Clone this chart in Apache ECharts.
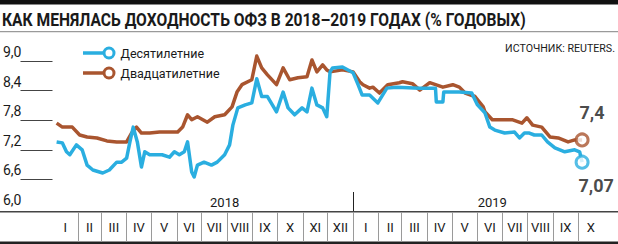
<!DOCTYPE html>
<html>
<head>
<meta charset="utf-8">
<script src="https://cdn.jsdelivr.net/npm/echarts@6/dist/echarts.min.js"></script>
<style>html,body{margin:0;padding:0;background:#fff}#c{width:618px;height:244px}</style>
</head>
<body>
<div id="c"></div>
<script>
const titleText = 'КАК МЕНЯЛАСЬ ДОХОДНОСТЬ ОФЗ В 2018–2019 ГОДАХ (% ГОДОВЫХ)';
const sourceText = 'ИСТОЧНИК: REUTERS.';
const seriesNames = ['Десятилетние', 'Двадцатилетние'];
const monthNames = ['I','II','III','IV','V','VI','VII','VIII','IX','X','XI','XII'];
const yearNames = ['2018', '2019'];
const yTicks = [6.0, 6.6, 7.2, 7.8, 8.4, 9.0];
const endLabels = ['7,07', '7,4'];

const dates10 = ['2018-01-06','2018-01-13','2018-01-18','2018-01-22','2018-01-30','2018-02-06','2018-02-12','2018-02-19','2018-03-03','2018-03-11','2018-03-20','2018-03-26','2018-04-01','2018-04-05','2018-04-09','2018-04-14','2018-04-19','2018-04-23','2018-04-29','2018-05-07','2018-05-14','2018-05-23','2018-05-29','2018-06-04','2018-06-10','2018-06-14','2018-06-19','2018-06-22','2018-06-26','2018-07-04','2018-07-13','2018-07-20','2018-07-29','2018-08-04','2018-08-08','2018-08-14','2018-08-23','2018-08-31','2018-09-06','2018-09-12','2018-09-19','2018-09-30','2018-10-08','2018-10-14','2018-10-22','2018-10-31','2018-11-06','2018-11-12','2018-11-18','2018-11-25','2018-11-30','2018-12-04','2018-12-07','2018-12-19','2019-01-01','2019-01-07','2019-01-12','2019-01-21','2019-01-31','2019-02-11','2019-02-23','2019-03-23','2019-04-11','2019-04-12','2019-04-20','2019-04-21','2019-05-10','2019-05-25','2019-06-01','2019-06-10','2019-06-16','2019-06-22','2019-07-04','2019-07-16','2019-07-22','2019-07-28','2019-08-03','2019-08-09','2019-08-18','2019-08-25','2019-09-03','2019-09-15','2019-09-27','2019-10-03','2019-10-06'];
const values10 = [7.36,7.34,7.16,7.10,7.30,7.20,6.89,6.79,6.73,6.79,6.95,6.95,7.03,7.36,7.66,7.36,6.85,7.16,7.10,7.10,7.10,7.05,7.16,7.10,7.16,7.36,6.75,6.65,6.89,6.95,6.89,6.95,7.10,7.30,7.70,8.05,8.11,8.15,8.64,8.28,8.28,7.97,8.37,8.05,7.91,8.05,7.97,8.45,8.11,8.05,7.87,8.78,8.86,8.88,8.76,8.52,8.31,8.31,8.15,8.45,8.47,8.45,8.45,8.17,8.17,8.37,8.37,8.35,8.11,7.95,7.66,7.60,7.54,7.56,7.44,7.54,7.54,7.50,7.50,7.36,7.24,7.16,7.20,7.16,6.95];

const dates20 = ['2018-01-06','2018-01-13','2018-01-25','2018-02-03','2018-02-12','2018-02-24','2018-03-08','2018-03-20','2018-04-01','2018-04-07','2018-04-13','2018-04-19','2018-04-29','2018-05-11','2018-05-23','2018-06-02','2018-06-08','2018-06-14','2018-06-19','2018-06-26','2018-07-08','2018-07-17','2018-07-29','2018-08-07','2018-08-13','2018-08-19','2018-08-31','2018-09-06','2018-09-12','2018-09-19','2018-09-30','2018-10-08','2018-10-16','2018-10-26','2018-11-06','2018-11-12','2018-11-18','2018-11-25','2018-11-30','2018-12-04','2018-12-19','2019-01-01','2019-01-09','2019-01-13','2019-01-21','2019-01-25','2019-02-02','2019-02-12','2019-02-26','2019-03-02','2019-03-14','2019-03-23','2019-04-04','2019-04-20','2019-05-02','2019-05-10','2019-05-17','2019-05-29','2019-06-08','2019-06-10','2019-06-19','2019-07-01','2019-07-13','2019-07-25','2019-07-31','2019-08-07','2019-08-18','2019-08-28','2019-09-07','2019-09-19','2019-09-27','2019-10-06'];
const values20 = [7.74,7.66,7.66,7.50,7.46,7.44,7.38,7.36,7.36,7.54,7.66,7.54,7.54,7.56,7.56,7.56,7.66,7.91,7.81,7.87,7.76,7.87,7.91,8.07,8.37,8.52,8.62,9.10,8.86,8.72,8.52,8.86,8.62,8.66,8.68,9.02,8.78,8.92,8.82,8.78,8.82,8.78,8.58,8.52,8.45,8.47,8.35,8.52,8.56,8.58,8.54,8.41,8.56,8.47,8.52,8.47,8.35,8.28,8.07,7.97,7.81,7.81,7.81,7.74,7.85,7.70,7.66,7.46,7.44,7.36,7.40,7.40];

const BLUE = '#2aaee0', BROWN = '#a9552f', INK = '#1a1a1a';
const FONT = "Roboto, 'Liberation Sans', sans-serif";
const BASE = Date.UTC(2018, 0, 1);
function dayOf(s) { const p = s.split('-').map(Number); return (Date.UTC(p[0], p[1] - 1, p[2]) - BASE) / 864e5; }
const monthStarts = [];
for (let i = 0; i <= 22; i++) monthStarts.push((Date.UTC(2018, i, 1) - BASE) / 864e5);
const monthMids = monthStarts.slice(0, 22).map((d, i) => (d + monthStarts[i + 1]) / 2);
const X_MAX = monthStarts[22];
const d10 = dates10.map((d, i) => [dayOf(d), values10[i]]);
const d20 = dates20.map((d, i) => [dayOf(d), values20[i]]);

// measure text to condense it horizontally to the reference width
const mctx = document.createElement('canvas').getContext('2d');
function fitScale(text, font, target) { mctx.font = font; return Math.min(1, target / mctx.measureText(text).width); }
const titleFont = "bold 18px Roboto";
const titleScale = fitScale(titleText, titleFont, 524);
const srcFont = "11px Roboto";
const srcScale = fitScale(sourceText, srcFont, 110);

const icon = 'path://M0,4.75H21V8.25H0Z M19.5,6.5A6.5,6.5 0 1,1 32.5,6.5A6.5,6.5 0 1,1 19.5,6.5Z M22.5,6.5A3.5,3.5 0 1,0 29.5,6.5A3.5,3.5 0 1,0 22.5,6.5Z';

const chart = echarts.init(document.getElementById('c'), null, { renderer: 'svg' });
const baseGraphic = [
  { type: 'rect', shape: { x: 0, y: 0, width: 618, height: 4.5 }, style: { fill: '#111' } },
  { type: 'text', x: 2, y: 20, scaleX: titleScale, style: { text: titleText, font: titleFont, fill: INK, textAlign: 'left', textVerticalAlign: 'middle' } },
  { type: 'rect', shape: { x: 0, y: 31, width: 618, height: 1.2 }, style: { fill: '#9a9a9a' } },
  { type: 'text', x: 615, y: 48, scaleX: srcScale, style: { text: sourceText, font: srcFont, fill: INK, textAlign: 'right', textVerticalAlign: 'middle' } },
  { type: 'rect', shape: { x: 0, y: 211, width: 618, height: 1.5 }, style: { fill: '#444' } },
  { type: 'rect', shape: { x: 0, y: 241.5, width: 618, height: 2.5 }, style: { fill: '#222' } }
];
chart.setOption({
  animation: false,
  backgroundColor: '#fff',
  textStyle: { fontFamily: FONT },
  legend: {
    data: seriesNames, orient: 'vertical', left: 78, top: 41.5, itemWidth: 32.5, itemHeight: 13, itemGap: 7,
    icon: icon, itemStyle: { borderWidth: 0 }, selectedMode: false,
    textStyle: { fontFamily: FONT, fontSize: 12.5, color: INK }
  },
  grid: { left: 52.5, right: 14.5, top: 61, bottom: 35, containLabel: false, outerBoundsMode: 'none' },
  xAxis: [
    { type: 'value', position: 'bottom', min: 0, max: X_MAX, offset: -2, axisLine: { show: false }, splitLine: { show: false },
      axisTick: { show: false },
      axisLabel: { inside: true, margin: -2, customValues: [209, 534], formatter: v => yearNames[v < monthStarts[12] ? 0 : 1], fontFamily: FONT, fontSize: 13, color: INK } },
    { type: 'value', position: 'bottom', min: 0, max: X_MAX, offset: 3, axisLine: { show: false }, splitLine: { show: false },
      axisTick: { show: true, length: 30, customValues: monthStarts.slice(1, 22), lineStyle: { color: '#9a9a9a', width: 1 } },
      axisLabel: { margin: 9, customValues: monthMids, formatter: v => monthNames[monthMids.indexOf(v) % 12], fontFamily: FONT, fontSize: 13, color: INK } }
  ],
  yAxis: [
    { type: 'value', position: 'left', min: 6, max: 9, show: false },
    { type: 'value', position: 'left', min: 6, max: 9, offset: 20, axisLine: { show: false }, splitLine: { show: false },
      axisTick: { show: true, length: 32, customValues: yTicks.slice(1), lineStyle: { color: '#444', width: 1 } },
      axisLabel: { customValues: yTicks, align: 'left', verticalAlign: 'bottom', margin: 29.5, padding: [0, 0, 2, 0],
        formatter: v => v.toFixed(1).replace('.', ','), fontFamily: FONT, fontSize: 14, color: INK } }
  ],
  graphic: baseGraphic,
  series: [
    { name: seriesNames[1], type: 'line', data: d20, showSymbol: false, symbol: 'none', clip: false,
      lineStyle: { color: BROWN, width: 3.5, join: 'round' }, itemStyle: { color: BROWN } },
    { name: seriesNames[0], type: 'line', data: d10, showSymbol: false, symbol: 'none', clip: false,
      lineStyle: { color: BLUE, width: 3.5, join: 'round' }, itemStyle: { color: BLUE } },
    { type: 'scatter', data: [d20[d20.length - 1]], symbol: 'circle', symbolSize: 12, z: 5,
      itemStyle: { color: '#fff', borderColor: BROWN, borderWidth: 3 },
      label: { show: true, formatter: endLabels[1], position: 'top', offset: [10, -6], fontFamily: FONT, fontWeight: 'bold', fontSize: 18, color: INK } },
    { type: 'scatter', data: [d10[d10.length - 1]], symbol: 'circle', symbolSize: 12, z: 5,
      itemStyle: { color: '#fff', borderColor: BLUE, borderWidth: 3 },
      label: { show: true, formatter: endLabels[0], position: 'bottom', offset: [14, 2], fontFamily: FONT, fontWeight: 'bold', fontSize: 18, color: INK } }
  ]
});
// year separator placed through the library's x scale
const yearX = Math.round(chart.convertToPixel({ xAxisIndex: 0 }, monthStarts[12])) + 0.5;
chart.setOption({ graphic: baseGraphic.concat([
  { type: 'line', shape: { x1: yearX, y1: 192, x2: yearX, y2: 211 }, style: { stroke: '#222', lineWidth: 1 } }
]) });
</script>
</body>
</html>
